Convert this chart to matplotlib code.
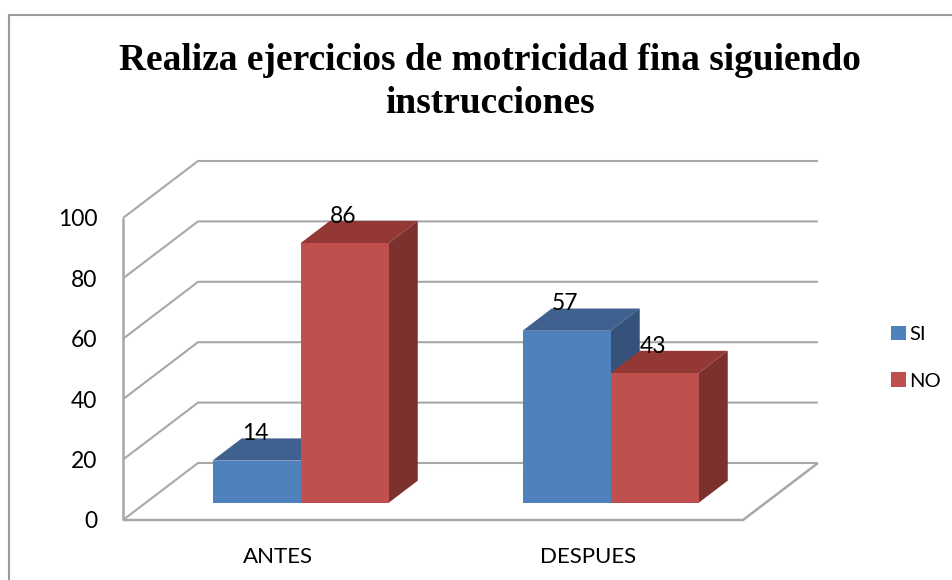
import matplotlib
matplotlib.use("Agg")
import matplotlib.pyplot as plt
from matplotlib.patches import Patch
from matplotlib.lines import Line2D

title = "Realiza ejercicios de motricidad fina siguiendo\ninstrucciones"
categories = ["ANTES", "DESPUES"]
series_names = ["SI", "NO"]
si_values = [14, 57]
no_values = [86, 43]
y_ticks = [0, 20, 40, 60, 80, 100]

W, H = 952, 580
BLUE = ("#4F81BD", "#3E618F", "#34527A")
RED = ("#C0504D", "#943836", "#7D312F")
GRID = "#a8a8a8"
FONT = "Lato"

fig = plt.figure(figsize=(W / 100, H / 100), dpi=100, facecolor="white")

# front plane of the pseudo-3D box, in pixels
L, R, T, B = 123, 743, 218, 520
ax = fig.add_axes([L / W, 1 - B / H, (R - L) / W, (B - T) / H])
ax.set_xlim(-0.5, 1.5)
ax.set_ylim(0, 100)
ax.patch.set_alpha(0)
for s in ax.spines.values():
    s.set_visible(False)

px_x = 2.0 / (R - L)
px_y = 100.0 / (B - T)
DX = 75 * px_x   # full depth of the box, x data units
DY = 57 * px_y   # full depth of the box, y data units


def proj(x, v, d):
    return x + d * DX, v + d * DY


xmin, xmax = -0.5, 1.5
lk = dict(color=GRID, lw=1.5, clip_on=False, solid_capstyle="butt", zorder=1)

# back wall gridlines and side wall diagonals
for t in y_ticks:
    p0 = proj(xmin, t, 0)
    p1 = proj(xmin, t, 1)
    p2 = proj(xmax, t, 1)
    ax.plot([p0[0], p1[0], p2[0]], [p0[1], p1[1], p2[1]], **lk)
# left vertical edge, front floor edge, right floor diagonal
ax.plot([xmin, xmin], [0, 100], **{**lk, "lw": 1.8})
p3 = proj(xmax, 0, 1)
ax.plot([xmin, xmax, p3[0]], [0, 0, p3[1]], **{**lk, "lw": 1.8})

# bars
BAR_W = 88 * px_x
D0, D1 = 0.30, 0.69


def bar3d(xc, val, colors, z):
    x0 = xc - BAR_W / 2
    _, base = proj(0, 0, D0)
    x0p = x0 + D0 * DX
    x1p = x0p + BAR_W
    dx = (D1 - D0) * DX
    dy = (D1 - D0) * DY
    ax.bar(x0p, val, width=BAR_W, bottom=base, align="edge", color=colors[0],
           clip_on=False, zorder=z + 0.2, linewidth=0)
    top = base + val
    ax.fill([x0p, x1p, x1p + dx, x0p + dx], [top, top, top + dy, top + dy],
            color=colors[1], clip_on=False, zorder=z, linewidth=0)
    ax.fill([x1p, x1p + dx, x1p + dx, x1p], [base, base + dy, top + dy, top],
            color=colors[2], clip_on=False, zorder=z + 0.1, linewidth=0)
    ax.annotate(str(val), (x0p + BAR_W / 2 - 1.5 * px_x, top), xytext=(0, 27 * 0.72),
                textcoords="offset points", ha="center", va="center",
                fontsize=16.5, family=FONT, color="black", zorder=20,
                annotation_clip=False)


for i in range(len(categories)):
    bar3d(i - BAR_W / 2, si_values[i], BLUE, 2 + i * 2)
    bar3d(i + BAR_W / 2, no_values[i], RED, 3 + i * 2)

ax.set_xticks(range(len(categories)))
ax.set_xticklabels(categories, fontsize=16, family=FONT)
ax.set_yticks(y_ticks)
ax.set_yticklabels([str(t) for t in y_ticks], fontsize=16.5, family=FONT)
ax.tick_params(axis="x", length=0, pad=19.5)
ax.tick_params(axis="y", length=0, pad=18.5)

# title
fig.text(490 / W, 1 - 82 / H, title, ha="center", va="center", fontsize=26.9,
         family="Liberation Serif", fontweight="bold", linespacing=1.33)

# outer frame: only the top and left edges fall inside the crop
fig.add_artist(Line2D([9 / W, 9 / W, 1], [0, 1 - 15 / H, 1 - 15 / H],
                      transform=fig.transFigure, color="#9a9a9a", lw=1.5,
                      solid_joinstyle="miter"))

# legend
handles = [Patch(facecolor=BLUE[0], label=series_names[0]),
           Patch(facecolor=RED[0], label=series_names[1])]
fig.legend(handles=handles, loc="center left",
           bbox_to_anchor=(873 / W, 1 - 357.5 / H), frameon=False,
           handlelength=0.75, handleheight=0.75, handletextpad=0.15,
           labelspacing=1.45, prop={"family": FONT, "size": 14.5})

fig.savefig("out.png", dpi=100)
